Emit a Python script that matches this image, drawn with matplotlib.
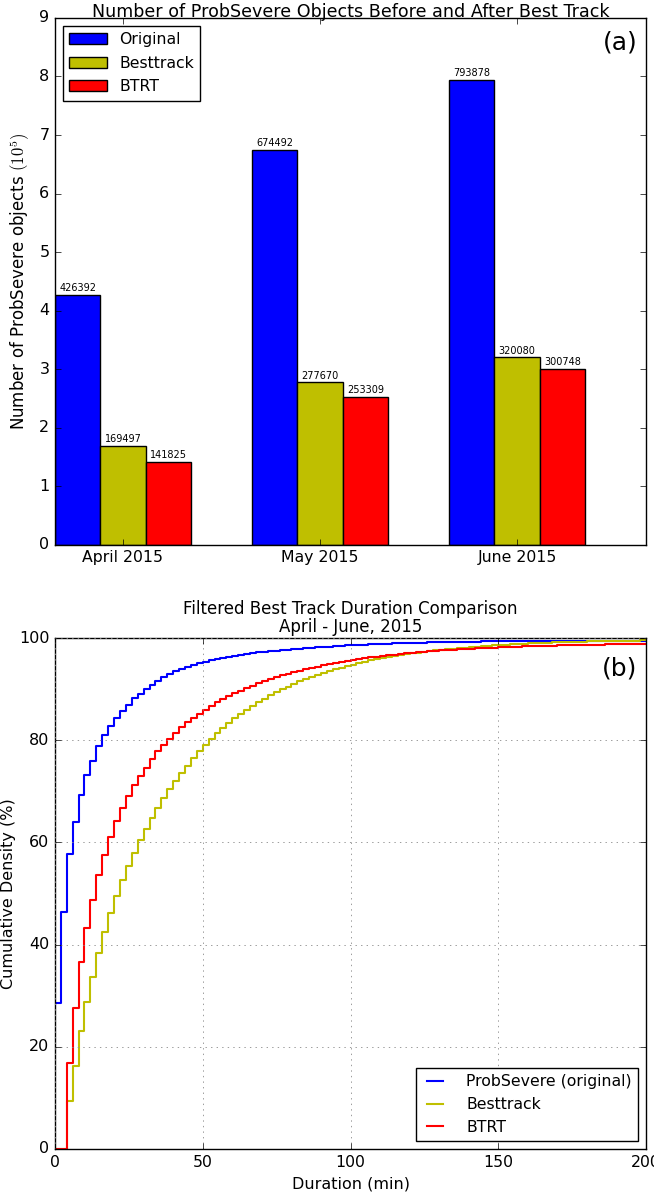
import numpy as np
import matplotlib
matplotlib.use('Agg')
from matplotlib import pyplot as plt

plt.style.use('classic')
plt.rcParams['figure.facecolor'] = 'white'
plt.rcParams['savefig.facecolor'] = 'white'
plt.rcParams['xtick.labelsize'] = 11.3
plt.rcParams['ytick.labelsize'] = 11.5

# object counts per month
months = ['April 2015', 'May 2015', 'June 2015']
original = [426392, 674492, 793878]
besttrack = [169497, 277670, 320080]
btrt = [141825, 253309, 300748]

# cumulative duration distributions (%), one value per 2-minute bin
durations = np.arange(0, 202, 2)
cdf_original = [28.5, 46.3, 57.8, 63.9, 69.3, 73.1, 76.0, 78.8, 81.0, 82.8,
                84.4, 85.8, 86.9, 88.2, 89.0, 90.0, 90.9, 91.6, 92.3, 92.9,
                93.5, 94.0, 94.4, 94.8, 95.1, 95.4, 95.7, 95.9, 96.1, 96.3,
                96.5, 96.7, 96.9, 97.0, 97.2, 97.3, 97.4, 97.5, 97.6, 97.7,
                97.8, 97.9, 98.0, 98.1, 98.2, 98.3, 98.3, 98.4, 98.5, 98.6,
                98.6, 98.7, 98.7, 98.8, 98.8, 98.9, 98.9, 99.0, 99.0, 99.0,
                99.1, 99.1, 99.1, 99.2, 99.2, 99.2, 99.2, 99.3, 99.3, 99.3,
                99.3, 99.3, 99.4, 99.4, 99.4, 99.4, 99.4, 99.4, 99.4, 99.5,
                99.5, 99.5, 99.5, 99.5, 99.5, 99.5, 99.5, 99.5, 99.5, 99.5,
                99.5, 99.5, 99.5, 99.5, 99.5, 99.5, 99.5, 99.5, 99.5, 99.5,
                99.5]
cdf_besttrack = [0.0, 0.0, 9.4, 16.2, 23.0, 28.7, 33.6, 38.4, 42.5, 46.1,
                 49.5, 52.6, 55.3, 58.0, 60.4, 62.7, 64.8, 66.8, 68.6, 70.4,
                 72.0, 73.6, 75.0, 76.5, 77.9, 79.1, 80.3, 81.4, 82.4, 83.4,
                 84.3, 85.1, 85.9, 86.7, 87.4, 88.1, 88.8, 89.4, 90.0, 90.5,
                 91.0, 91.5, 92.0, 92.4, 92.8, 93.2, 93.6, 93.9, 94.2, 94.5,
                 94.8, 95.1, 95.3, 95.6, 95.8, 96.0, 96.2, 96.4, 96.6, 96.8,
                 97.0, 97.1, 97.3, 97.4, 97.6, 97.7, 97.8, 97.9, 98.0, 98.1,
                 98.2, 98.3, 98.4, 98.5, 98.6, 98.7, 98.7, 98.8, 98.9, 98.9,
                 99.0, 99.0, 99.1, 99.1, 99.2, 99.2, 99.2, 99.3, 99.3, 99.3,
                 99.4, 99.4, 99.4, 99.4, 99.5, 99.5, 99.5, 99.5, 99.5, 99.6,
                 99.6]
cdf_btrt = [0.0, 0.0, 16.8, 27.5, 36.5, 43.3, 48.7, 53.6, 57.6, 61.0,
            64.2, 66.8, 69.1, 71.3, 73.0, 74.6, 76.3, 77.8, 79.1, 80.3,
            81.4, 82.5, 83.5, 84.4, 85.2, 86.0, 86.7, 87.4, 88.0, 88.6,
            89.2, 89.7, 90.2, 90.7, 91.1, 91.5, 91.9, 92.3, 92.7, 93.0,
            93.3, 93.6, 93.9, 94.2, 94.4, 94.7, 94.9, 95.1, 95.3, 95.5,
            95.7, 95.9, 96.0, 96.2, 96.3, 96.5, 96.6, 96.7, 96.9, 97.0,
            97.1, 97.2, 97.3, 97.4, 97.5, 97.6, 97.7, 97.7, 97.8, 97.9,
            97.9, 98.0, 98.0, 98.1, 98.1, 98.2, 98.2, 98.3, 98.3, 98.4,
            98.4, 98.4, 98.5, 98.5, 98.5, 98.6, 98.6, 98.6, 98.6, 98.7,
            98.7, 98.7, 98.7, 98.8, 98.8, 98.8, 98.8, 98.8, 98.9, 98.9,
            98.9]

fig = plt.figure(figsize=(6.54, 11.95), dpi=100)
ax1 = fig.add_axes([0.084, 0.544, 0.904, 0.441])
ax2 = fig.add_axes([0.084, 0.0385, 0.904, 0.4276])

# --- (a) bar chart ---
ind = np.arange(len(months))
width = 0.23
series = [(original, 'b', 'Original'), (besttrack, 'y', 'Besttrack'), (btrt, 'r', 'BTRT')]
for k, (vals, col, lab) in enumerate(series):
    h = np.array(vals) / 1e5
    rects = ax1.bar(ind + k*width, h, width, color=col, label=lab, align='edge')
    for rect, v in zip(rects, vals):
        ax1.text(rect.get_x() + rect.get_width()/2., rect.get_height() + 0.03, '%d' % v,
                 ha='center', va='bottom', fontsize=7)

ax1.set_xlim(0, 3)
ax1.set_ylim(0, 9)
ax1.set_xticks(ind + 1.5*width)
ax1.set_xticklabels(months)
ax1.set_ylabel(r'Number of ProbSevere objects $(10^5)$', fontsize=12)
ax1.set_title('Number of ProbSevere Objects Before and After Best Track', fontsize=12.6, pad=1)
ax1.legend(loc='upper left', fontsize=11.3, handlelength=2.4, labelspacing=0.55)
ax1.text(0.985, 0.953, '(a)', transform=ax1.transAxes, ha='right', va='center', fontsize=18)

# --- (b) cumulative durations ---
ax2.step(durations, cdf_original, where='post', color='b', lw=1.5, label='ProbSevere (original)')
ax2.step(durations, cdf_besttrack, where='post', color='y', lw=1.5, label='Besttrack')
ax2.step(durations, cdf_btrt, where='post', color='r', lw=1.5, label='BTRT')
ax2.set_xlim(0, 200)
ax2.set_ylim(0, 100)
ax2.grid(True, color='0.55', linestyle=':', linewidth=0.6)
ax2.set_xlabel('Duration (min)', fontsize=11.5)
ax2.set_ylabel('Cumulative Density (%)', fontsize=11.5, labelpad=2)
ax2.set_title('Filtered Best Track Duration Comparison\nApril - June, 2015', fontsize=12, pad=4,
              linespacing=1.05)
ax2.legend(loc='lower right', fontsize=11.3, handlelength=1.6, handletextpad=1.2)
ax2.text(0.985, 0.94, '(b)', transform=ax2.transAxes, ha='right', va='center', fontsize=18)

fig.savefig('out.png', dpi=100)
